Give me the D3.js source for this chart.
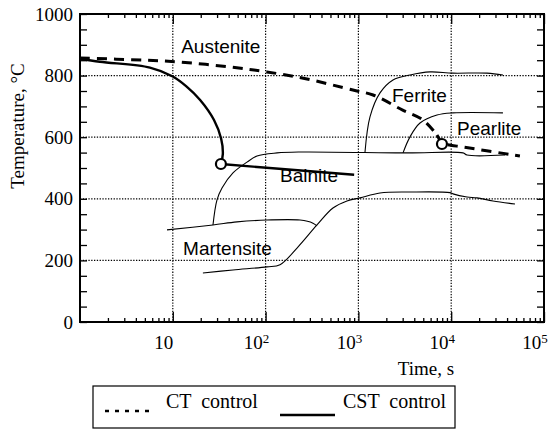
<!DOCTYPE html>
<html>
<head>
<meta charset="utf-8">
<script src="https://cdn.jsdelivr.net/npm/d3@7"></script>
<style>
  body { margin: 0; background: #fff; }
  svg text { fill: #000; }
</style>
</head>
<body>
<svg id="chart" width="552" height="430"></svg>
<script>
// ---- data: temperature (°C) against time (s) ----
const yTickValues = [0, 200, 400, 600, 800, 1000];
const yTickLabels = ["0", "200", "400", "600", "800", "1000"];
const xDecades = [1, 2, 3, 4, 5];
const xTickLabels = ["10", "10", "10", "10", "10"];
const xTickSups = ["", "2", "3", "4", "5"];

// CT control: continuous cooling, then slow cooling after the marked point
const ctCooling = [[1, 857], [5, 850], [11.9, 844], [41, 828], [103, 812], [279, 789], [873, 753],
  [1440, 737], [3000, 688], [4970, 656], [7030, 607]];
const ctStub = [[7030, 607], [7950, 578]];
const ctAfter = [[7950, 578], [11500, 571], [55000, 539]];
const ctMark = [7950, 578];

// CST control: fast cooling to the bainite range, then isothermal-like hold
const cstCooling = [[1, 855], [1.64, 845], [5.67, 826], [10, 797], [14, 765], [19.7, 721],
  [27.8, 656], [33.2, 595], [34.6, 545], [33, 513]];
const cstHold = [[33, 513], [900, 478]];
const cstMark = [33, 513];

// transformation boundaries
const ferriteStart = [[1178, 552], [1333, 666], [1709, 744], [2360, 786], [3597, 802], [5910, 812],
  [10450, 808], [24300, 808], [36100, 802]];
const pearliteStart = [[3026, 549], [3597, 601], [4610, 646], [7030, 672], [10450, 679], [36100, 679]];
const bainiteStart = [[27.1, 315], [29.9, 396], [33.9, 435], [44.5, 484], [63, 519], [80.8, 539],
  [133, 549], [235, 552], [3340, 549], [13400, 549], [14800, 542], [38000, 542]];
const bainiteLower = [[8.66, 299], [27.1, 315], [49.2, 325], [103.5, 331], [235, 331], [324, 321], [358, 312]];
const martensite = [[21.1, 159], [44.5, 169], [103.5, 179], [143, 186], [218, 240], [358, 315],
  [532, 370], [753, 393], [1040, 403], [1709, 419], [3597, 422], [9710, 420], [10450, 416],
  [14800, 406], [18970, 403], [28200, 393], [48700, 383]];

const phaseLabels = ["Austenite", "Ferrite", "Pearlite", "Bainite", "Martensite"];
const phaseAnchors = [[12.3, 873], [2300, 713], [11550, 607], [143, 455], [12.9, 217]];

// ---- layout ----
const svg = d3.select("#chart");
const x = d3.scaleLog().domain([1, 1e5]).range([80, 544]);
const y = d3.scaleLinear().domain([0, 1000]).range([322, 14]);
const serif = "'Liberation Serif', 'Times New Roman', serif";
const sans = "'Liberation Sans', Arial, sans-serif";

svg.append("defs").append("clipPath").attr("id", "plot")
  .append("rect").attr("x", 80).attr("y", 14).attr("width", 464).attr("height", 308);

// dotted grid
const grid = svg.append("g").attr("stroke", "#000").attr("stroke-width", 1.2)
  .attr("stroke-dasharray", "1.3,1.5");
[10, 100, 1000, 10000].forEach(v => grid.append("line")
  .attr("x1", x(v)).attr("x2", x(v)).attr("y1", 14).attr("y2", 322));
[200, 400, 600, 800].forEach(v => grid.append("line")
  .attr("x1", 80).attr("x2", 544).attr("y1", y(v)).attr("y2", y(v)));

// axis ticks (inward) on all four sides
const minorX = [];
for (let d = 0; d < 5; d++) for (let k = 2; k <= 9; k++) minorX.push(k * Math.pow(10, d));
const majorX = xDecades.map(e => Math.pow(10, e));
const ticksY = d3.range(0, 1001, 50);

function styleAxis(g) {
  g.select(".domain").remove();
  g.selectAll("line").attr("stroke", "#000").attr("stroke-width", 1.3);
}
svg.append("g").attr("transform", "translate(0,322)")
  .call(d3.axisBottom(x).tickValues(minorX).tickSize(-4).tickFormat("")).call(styleAxis);
svg.append("g").attr("transform", "translate(0,322)")
  .call(d3.axisBottom(x).tickValues(majorX).tickSize(-10).tickFormat("")).call(styleAxis);
svg.append("g").attr("transform", "translate(0,14)")
  .call(d3.axisTop(x).tickValues(minorX).tickSize(-4).tickFormat("")).call(styleAxis);
svg.append("g").attr("transform", "translate(0,14)")
  .call(d3.axisTop(x).tickValues(majorX).tickSize(-10).tickFormat("")).call(styleAxis);
svg.append("g").attr("transform", "translate(80,0)")
  .call(d3.axisLeft(y).tickValues(ticksY).tickSize(-7).tickFormat("")).call(styleAxis);
svg.append("g").attr("transform", "translate(544,0)")
  .call(d3.axisRight(y).tickValues(ticksY).tickSize(-7).tickFormat("")).call(styleAxis);

// frame
svg.append("rect").attr("x", 80).attr("y", 14).attr("width", 464).attr("height", 308)
  .attr("fill", "none").attr("stroke", "#000").attr("stroke-width", 2);

// tick labels
svg.append("g").selectAll("text").data(yTickValues).join("text")
  .attr("x", 73).attr("y", d => y(d)).attr("dy", "0.35em")
  .attr("text-anchor", "end").attr("font-family", serif).attr("font-size", 19)
  .text((d, i) => yTickLabels[i]);

const xl = svg.append("g").selectAll("text").data(xDecades).join("text")
  .attr("x", d => x(Math.pow(10, d)) - 9).attr("y", 349)
  .attr("text-anchor", "middle").attr("font-family", serif).attr("font-size", 19);
xl.append("tspan").text((d, i) => xTickLabels[i]);
xl.append("tspan").attr("dy", -6).attr("font-size", 13).text((d, i) => xTickSups[i]);

// axis titles
svg.append("text").attr("x", 426).attr("y", 375).attr("text-anchor", "middle")
  .attr("font-family", serif).attr("font-size", 19).text("Time, s");
svg.append("text").attr("transform", "translate(24,126) rotate(-90)").attr("text-anchor", "middle")
  .attr("font-family", serif).attr("font-size", 19).text("Temperature, °C");

// curves
const line = d3.line().x(d => x(d[0])).y(d => y(d[1])).curve(d3.curveCatmullRom.alpha(0.5));
const plot = svg.append("g").attr("clip-path", "url(#plot)").attr("fill", "none").attr("stroke", "#000");

[ferriteStart, pearliteStart, bainiteStart, bainiteLower, martensite].forEach(s =>
  plot.append("path").attr("d", line(s)).attr("stroke-width", 1.1));

plot.append("path").attr("d", line(ctCooling)).attr("stroke-width", 3).attr("stroke-dasharray", "10,7");
plot.append("path").attr("d", line(ctStub)).attr("stroke-width", 3);
plot.append("path").attr("d", line(ctAfter)).attr("stroke-width", 3).attr("stroke-dasharray", "10,7")
  .attr("stroke-dashoffset", -6);
plot.append("path").attr("d", line(cstCooling)).attr("stroke-width", 2.4);
plot.append("path").attr("d", line(cstHold)).attr("stroke-width", 2.4);

[ctMark, cstMark].forEach(p => plot.append("circle")
  .attr("cx", x(p[0])).attr("cy", y(p[1])).attr("r", 5)
  .attr("fill", "#fff").attr("stroke-width", 2.2));

// phase labels
svg.append("g").selectAll("text").data(phaseLabels).join("text")
  .attr("x", (d, i) => x(phaseAnchors[i][0])).attr("y", (d, i) => y(phaseAnchors[i][1]))
  .attr("font-family", sans).attr("font-size", 19).text(d => d);

// legend
const lg = svg.append("g");
lg.append("rect").attr("x", 93).attr("y", 386).attr("width", 362).attr("height", 42)
  .attr("fill", "#fff").attr("stroke", "#000").attr("stroke-width", 1.2);
lg.append("line").attr("x1", 105).attr("x2", 153).attr("y1", 411).attr("y2", 411)
  .attr("stroke", "#000").attr("stroke-width", 2.6).attr("stroke-dasharray", "4,6");
lg.append("text").attr("x", 166).attr("y", 408).attr("font-family", serif).attr("font-size", 20)
  .attr("word-spacing", 5).text("CT control");
lg.append("line").attr("x1", 280).attr("x2", 335).attr("y1", 415).attr("y2", 415)
  .attr("stroke", "#000").attr("stroke-width", 2.4);
lg.append("text").attr("x", 343).attr("y", 408).attr("font-family", serif).attr("font-size", 20)
  .attr("word-spacing", 5).text("CST control");
</script>
</body>
</html>
